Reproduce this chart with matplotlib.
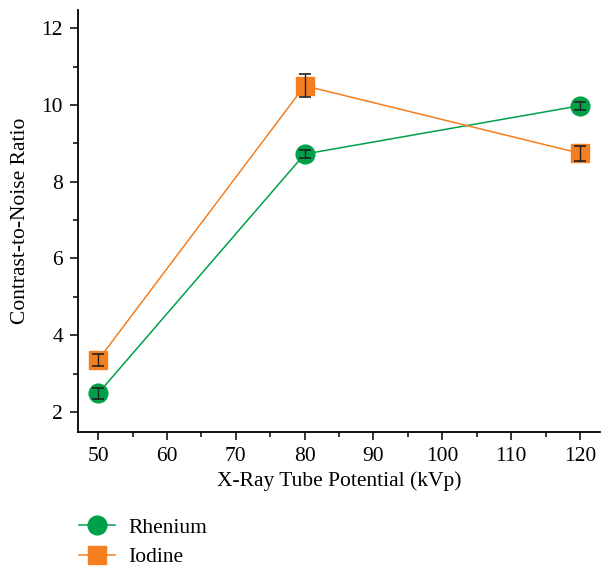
import numpy as np
import matplotlib
matplotlib.use("Agg")
import matplotlib.pyplot as plt
from matplotlib.ticker import MultipleLocator

# data
kvp = [50, 80, 120]
rhenium = [2.48, 8.72, 9.98]
rhenium_err = [0.15, 0.1, 0.1]
iodine = [3.35, 10.5, 8.74]
iodine_err = [0.15, 0.3, 0.2]

green = '#00a04a'
orange = '#f47f20'

plt.rcParams['font.family'] = ['Liberation Serif', 'DejaVu Serif']
plt.rcParams['font.size'] = 15.5

fig = plt.figure(figsize=(6.06, 5.66), dpi=100)
ax = fig.add_axes([0.129, 0.237, 0.861, 0.745])

ax.plot(kvp, rhenium, color=green, marker='o', markersize=13.5, lw=1.1, label='Rhenium', zorder=3)
ax.plot(kvp, iodine, color=orange, marker='s', markersize=12.5, lw=1.1, label='Iodine', zorder=3)
ax.errorbar(kvp, rhenium, yerr=rhenium_err, fmt='none', ecolor='#222222',
            elinewidth=1, capsize=4, capthick=1.2, zorder=4)
ax.errorbar(kvp, iodine, yerr=iodine_err, fmt='none', ecolor='#222222',
            elinewidth=1, capsize=4, capthick=1.2, zorder=4)

ax.set_xlim(47.1, 122.9)
ax.set_ylim(1.48, 12.47)
ax.xaxis.set_major_locator(MultipleLocator(10))
ax.xaxis.set_minor_locator(MultipleLocator(5))
ax.yaxis.set_major_locator(MultipleLocator(2))
ax.yaxis.set_minor_locator(MultipleLocator(1))
ax.tick_params(which='major', length=6, width=1.1, direction='out', pad=5)
ax.tick_params(which='minor', length=3.5, width=1.1, direction='out')
for s in ['top', 'right']:
    ax.spines[s].set_visible(False)
for s in ['left', 'bottom']:
    ax.spines[s].set_linewidth(1.3)

ax.set_xlabel('X-Ray Tube Potential (kVp)', labelpad=4)
ax.set_ylabel('Contrast-to-Noise Ratio', labelpad=8)

fig.legend(loc='upper left', bbox_to_anchor=(0.098, 0.12), frameon=False,
           handlelength=1.7, handletextpad=0.6, labelspacing=0.45, fontsize=15.5)

fig.savefig('out.png', dpi=100)
